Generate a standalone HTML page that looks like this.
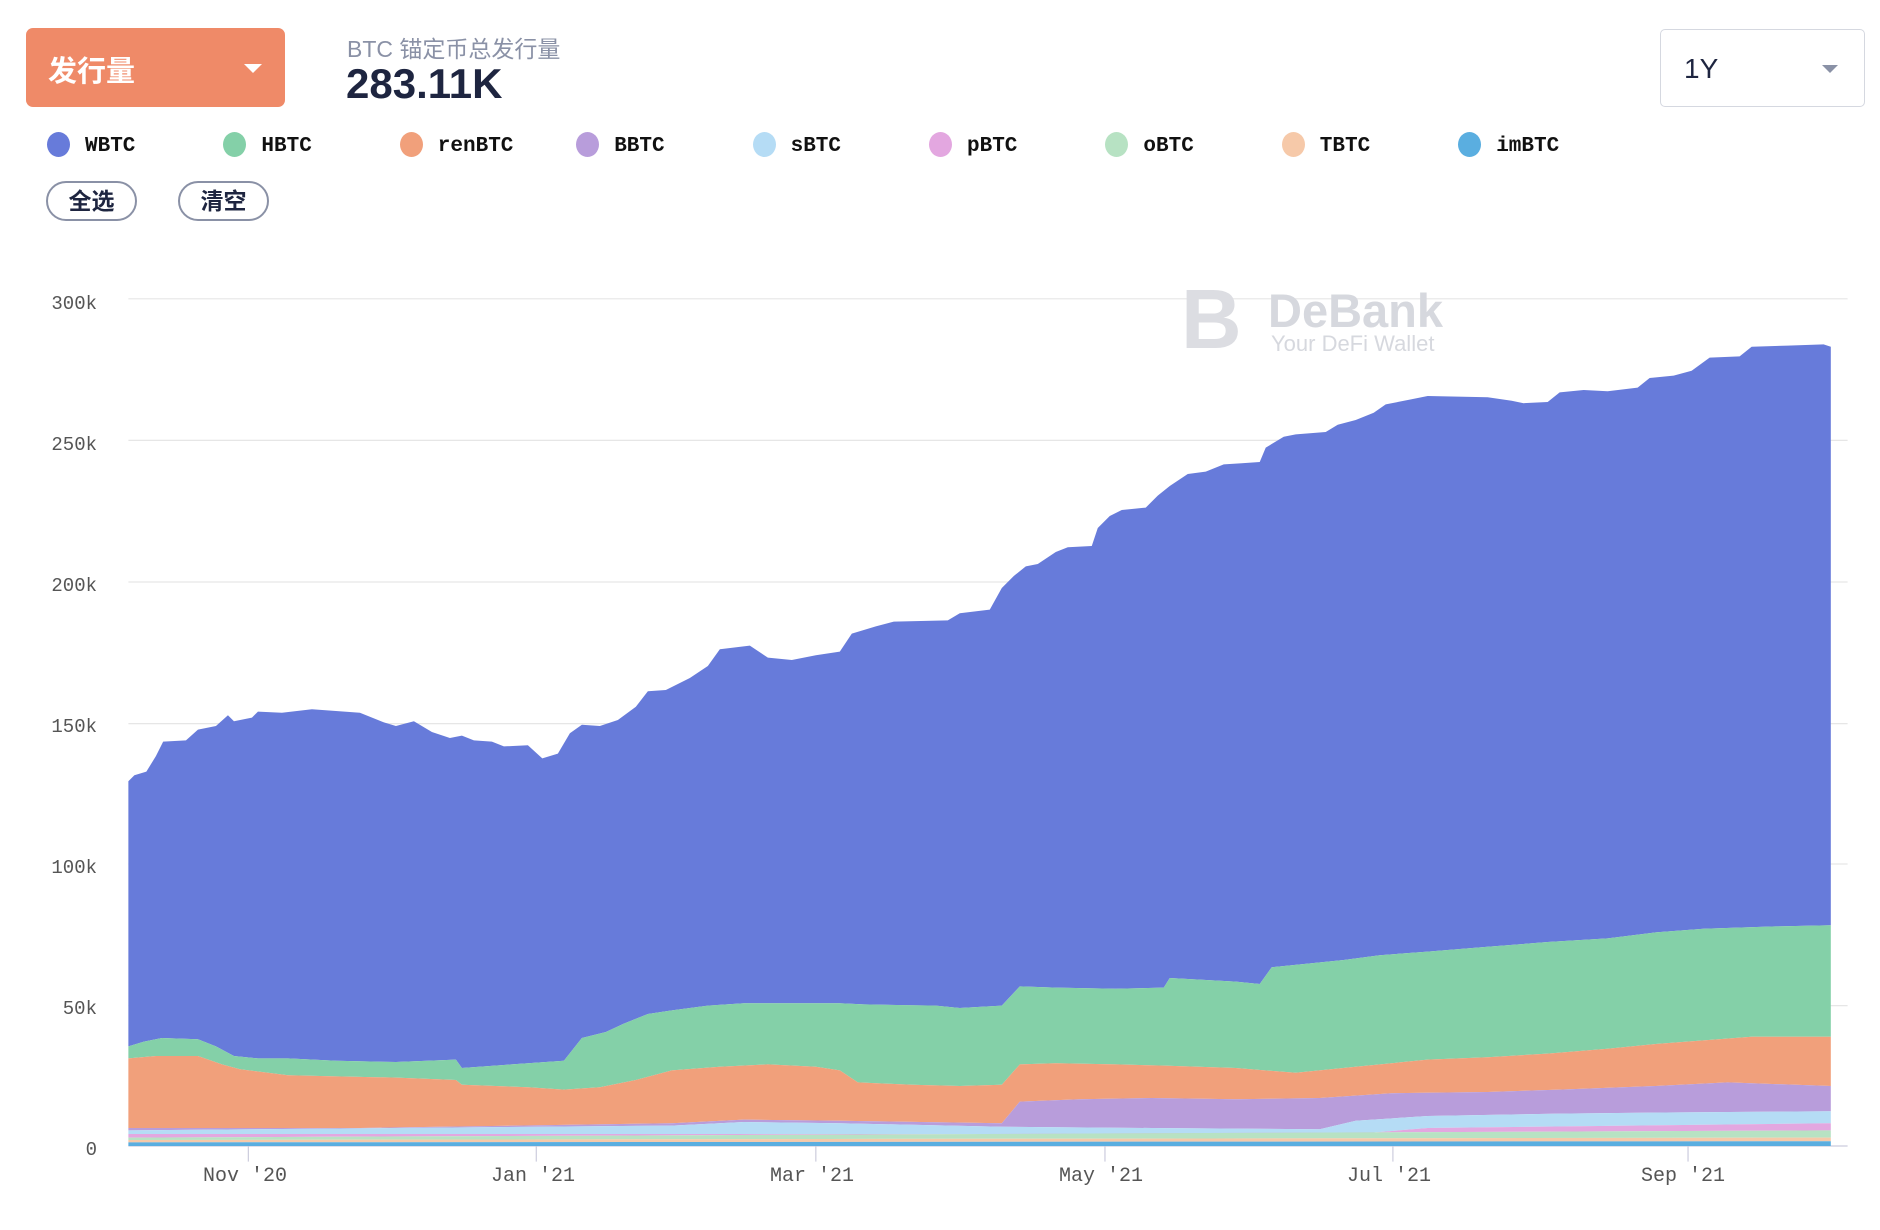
<!DOCTYPE html><html><head><meta charset="utf-8"><style>
body{margin:0;width:1880px;height:1230px;background:#fff;position:relative;overflow:hidden;font-family:"Liberation Sans","Noto Sans CJK SC",sans-serif}
.a{position:absolute;white-space:nowrap}
.btn{left:26px;top:28px;width:259px;height:79px;background:#EF8A68;border-radius:7px}
.leg{top:135px;font:bold 21px "Liberation Mono",monospace;color:#111}
.dot{position:absolute;width:23px;height:25px;border-radius:50%;top:132px}
.pill{top:181px;width:87px;height:36px;border:2px solid #8a91a6;border-radius:20px;text-align:center;line-height:36px;font-size:23px;color:#1e2540;font-weight:bold}
.yl{font:19px "Liberation Mono",monospace;color:#555;text-align:right;width:90px;left:7px}
.xl{font:20px "Liberation Mono",monospace;color:#555;top:1165px}
</style></head><body>
<div class="a btn"></div>
<div class="a" style="left:48px;top:48px;font-size:29px;color:#fff;font-weight:bold">发行量</div>
<div class="a" style="left:244px;top:64px;width:0;height:0;border-left:9px solid transparent;border-right:9px solid transparent;border-top:9px solid #fff"></div>
<div class="a" style="left:347px;top:30px;font-size:23px;color:#8a91a6">BTC 锚定币总发行量</div>
<div class="a" style="left:346px;top:60px;font-size:42px;color:#1e2540;font-weight:bold">283.11K</div>
<div class="a" style="left:1660px;top:29px;width:203px;height:76px;border:1.5px solid #d5d8e0;border-radius:5px"></div>
<div class="a" style="left:1684px;top:53px;font-size:28px;color:#1e2540">1Y</div>
<div class="a" style="left:1822px;top:65px;width:0;height:0;border-left:8px solid transparent;border-right:8px solid transparent;border-top:8px solid #8a91a6"></div>
<div id="leg"></div>
<div class="a pill" style="left:46px">全选</div>
<div class="a pill" style="left:178px">清空</div>
<svg class="a" style="left:0;top:0" width="1880" height="1230" viewBox="0 0 1567 1025" preserveAspectRatio="none" id="sv"></svg>
<div class="a" style="left:1181px;top:283px;width:64px;height:72px;color:#dcdde2;font:bold 84px 'Liberation Sans';line-height:72px">B</div>
<div class="a" style="left:1268px;top:283px;font:bold 47px 'Liberation Sans';color:#d6d8de">DeBank</div>
<div class="a" style="left:1271px;top:331px;font:22px 'Liberation Sans';color:#d6d8de">Your DeFi Wallet</div>
<div class="a yl" style="top:293px">300k</div>
<div class="a yl" style="top:434px">250k</div>
<div class="a yl" style="top:575px">200k</div>
<div class="a yl" style="top:716px">150k</div>
<div class="a yl" style="top:857px">100k</div>
<div class="a yl" style="top:998px">50k</div>
<div class="a yl" style="top:1139px">0</div>
<div class="a xl" style="left:203px">Nov '20</div>
<div class="a xl" style="left:491px">Jan '21</div>
<div class="a xl" style="left:770px">Mar '21</div>
<div class="a xl" style="left:1059px">May '21</div>
<div class="a xl" style="left:1347px">Jul '21</div>
<div class="a xl" style="left:1641px">Sep '21</div>
<script>
var names=["WBTC","HBTC","renBTC","BBTC","sBTC","pBTC","oBTC","TBTC","imBTC"];
var cols=["#677BDA","#84D0A8","#F1A07B","#B89DDB","#B5DCF5","#E3A7E0","#B7E2C3","#F6C9A9","#5AAEE0"];
var h="";for(var i=0;i<9;i++){var x=47+i*176.4;h+='<div class="dot" style="left:'+x+'px;background:'+cols[i]+'"></div><div class="a leg" style="left:'+(x+38)+'px">'+names[i]+'</div>';}
document.getElementById("leg").innerHTML=h;
function P(s){var a=s.trim().split(/\s*;\s*/).map(function(p){return p.split(",").map(Number)});return a}
var L=[
P("107,651;112,646;122,643;130,630;136,618;155,617;165,608;180,605;190,596;195,601;210,598;215,593;235,594;260,591;300,594;320,602;330,605;345,601;360,610;375,615;385,613;395,617;410,618;420,622;440,621;452,632;465,628;475,611;485,604;500,605;515,600;530,589;540,576;555,575;575,565;590,555;600,541;625,538;640,548;660,550;680,546;700,543;710,528;730,522;745,518;790,517;800,511;825,508;835,490;845,480;855,472;865,470;880,460;890,456;910,455;915,440;925,430;935,425;955,423;965,413;975,405;990,395;1005,393;1020,387;1035,386;1050,385;1055,373;1070,364;1080,362;1105,360;1115,354;1130,350;1145,344;1155,337;1175,333;1190,330;1240,331;1260,334;1270,336;1290,335;1300,327;1320,325;1340,326;1365,323;1375,315;1395,313;1410,309;1425,298;1450,297;1460,289;1490,288;1520,287;1526,289"),
P("107,872;120,868;135,865;165,866;180,872;195,880;215,882;240,882;280,884;330,885;380,883;385,890;440,886;470,884;485,865;505,860;520,853;540,845;560,842;590,838;620,836;660,836;700,836;720,837;780,838;800,840;835,838;850,822;880,823;930,824;970,823;975,815;1030,818;1050,820;1060,806;1090,803;1120,800;1150,796;1190,793;1240,789;1290,785;1340,782;1380,777;1420,774;1480,772;1526,771"),
P("107,882;130,880;165,880;185,887;200,891;240,896;280,897;330,898;380,900;385,904;440,906;470,908;500,906;530,900;560,892;600,889;640,887;680,889;700,892;715,902;760,904;800,905;835,904;850,887;880,886;930,887;970,888;1030,890;1080,894;1130,889;1160,886;1190,883;1240,881;1290,878;1340,874;1380,870;1420,867;1460,864;1526,864"),
P("107,940;300,940;560,936;620,933;700,934;835,936;850,918;900,916;960,915;1030,916;1100,915;1130,913;1160,911;1240,910;1300,908;1380,905;1440,902;1526,905"),
P("107,942;560,938;620,935;700,936;835,939;960,940;1100,941;1130,934;1190,930;1300,928;1400,927;1526,926"),
P("107,945;1130,945;1190,940;1526,936"),
P("107,948;1526,942"),
P("107,950;1526,948"),
P("107,952;1526,951"),
P("107,955;1526,955")];
var s="";
[249,367,485,603,720,838].forEach(function(y){s+='<line x1="107" x2="1540" y1="'+y+'" y2="'+y+'" stroke="#e6e6e6" stroke-width="1"/>'});
s+='<line x1="107" x2="1540" y1="955" y2="955" stroke="#ccd" stroke-width="1"/>';
[207,447,680,921,1161,1407].forEach(function(x){s+='<line x1="'+x+'" x2="'+x+'" y1="955" y2="968" stroke="#ccd" stroke-width="1"/>'});
for(var i=0;i<9;i++){var pts=L[i].map(function(p){return p.join(",")});var b=L[i+1].slice().reverse().map(function(p){return p.join(",")});
s+='<polygon fill="'+cols[i]+'" points="'+pts.concat(b).join(" ")+'"/>';}
document.getElementById("sv").innerHTML=s;
</script>
</body></html>
